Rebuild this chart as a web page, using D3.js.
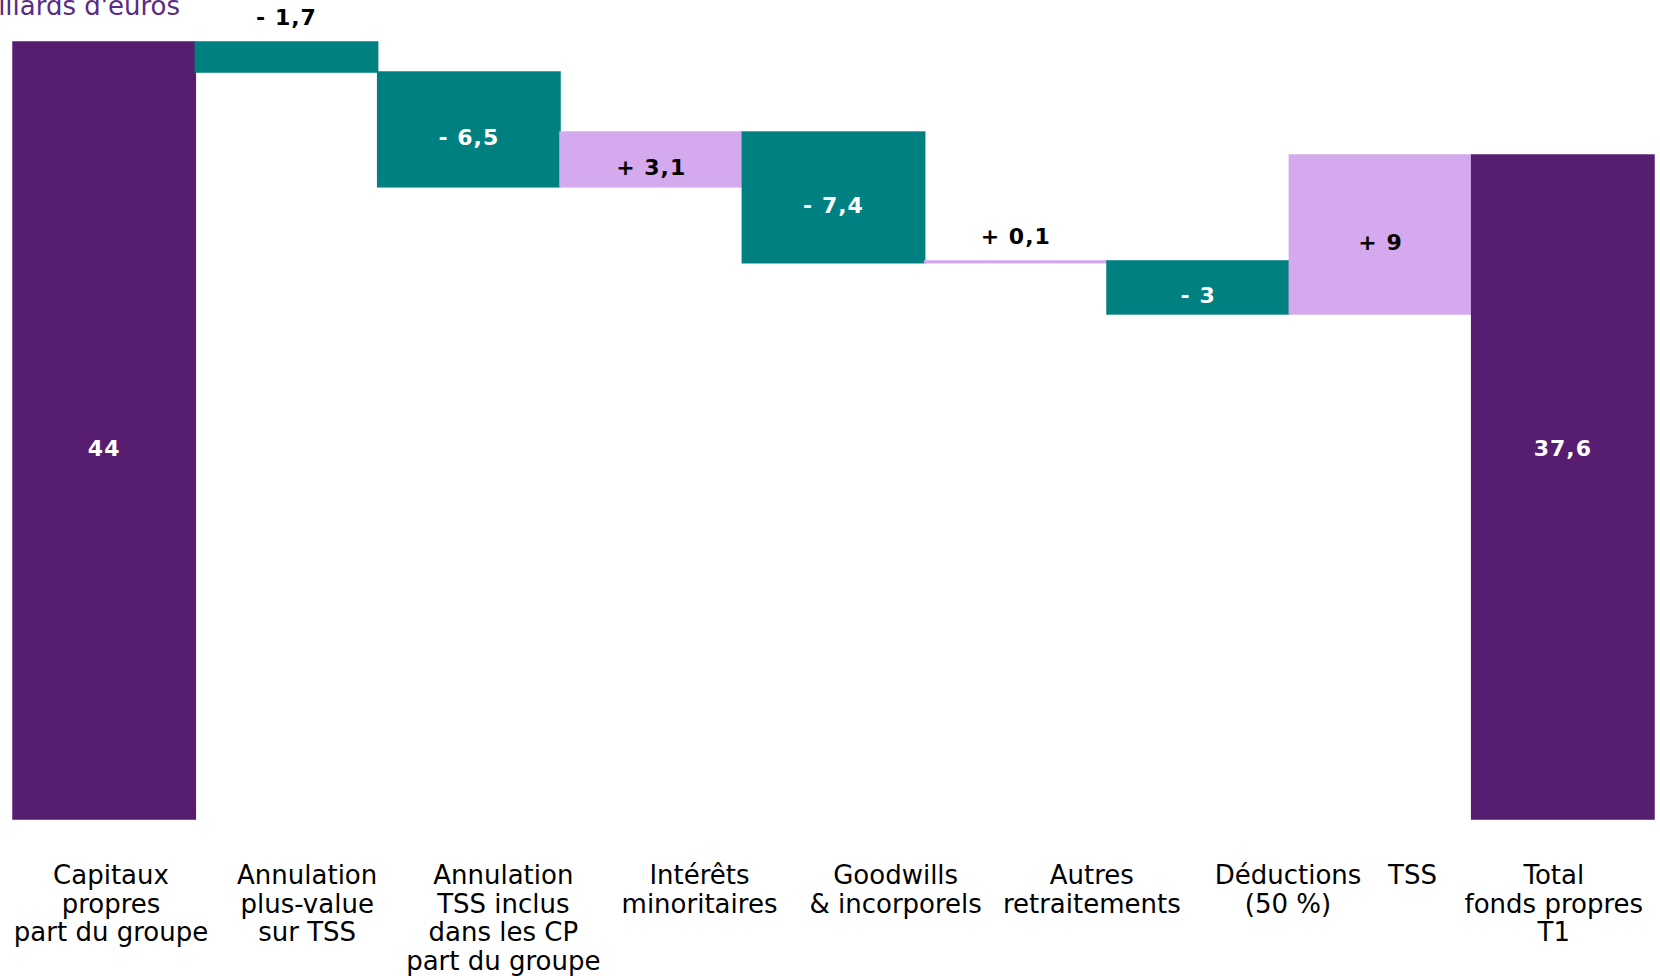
<!DOCTYPE html>
<html><head><meta charset="utf-8">
<script src="https://cdn.jsdelivr.net/npm/d3@7"></script>
<style>html,body{margin:0;padding:0;background:#fff;} svg{display:block;}</style>
</head><body>
<svg id="chart" width="1660" height="976"></svg>
<script>
// ---- data ----
const categories = ["cp","annPV","annTSS","minoritaires","goodwills","autres","deductions","tss","total"];
const categoryLabels = [
  ["Capitaux","propres","part du groupe"],
  ["Annulation","plus-value","sur TSS"],
  ["Annulation","TSS inclus","dans les CP","part du groupe"],
  ["Intérêts","minoritaires"],
  ["Goodwills","& incorporels"],
  ["Autres","retraitements"],
  ["Déductions","(50 %)"],
  ["TSS"],
  ["Total","fonds propres","T1"]
];
const kinds = ["total","delta","delta","delta","delta","delta","delta","delta","total"];
const values = [44, -1.7, -6.5, 3.1, -7.4, 0.1, -3, 9, 37.6];
const valueLabels = ["44","- 1,7","- 6,5","+ 3,1","- 7,4","+ 0,1","- 3","+ 9","37,6"];
const titleText = "En milliards d'euros";

// ---- layout / style ----
const colTotal = "#571D70", colNeg = "#008080", colPos = "#D4A9EE", colTitle = "#5B2A85";
const svg = d3.select("#chart");

// running totals
let run = 0;
const bars = categories.map((c, i) => {
  let y0, y1;
  if (kinds[i] === "total") { y0 = 0; y1 = values[i]; run = values[i]; }
  else { y0 = run; y1 = run + values[i]; run = y1; }
  return {cat: c, i, kind: kinds[i], v: values[i], lo: Math.min(y0, y1), hi: Math.max(y0, y1), label: valueLabels[i]};
});

const x = d3.scaleBand().domain(categories).range([13, 1654]).padding(0);
const y = d3.scaleLinear().domain([0, d3.max(bars, d => d.hi)]).range([819, 42]);

const fillOf = d => d.kind === "total" ? colTotal : (d.v < 0 ? colNeg : colPos);

svg.append("g").selectAll("rect").data(bars).join("rect")
  .attr("x", d => x(d.cat))
  .attr("width", x.bandwidth())
  .attr("y", d => y(d.hi))
  .attr("height", d => y(d.lo) - y(d.hi))
  .attr("fill", fillOf)
  .attr("stroke", fillOf)
  .attr("stroke-width", 1.5);

// value labels
const totalLabelY = (y(bars[0].lo) + y(bars[0].hi)) / 2 + 18;
svg.append("g").selectAll("text").data(bars).join("text")
  .attr("x", d => x(d.cat) + x.bandwidth() / 2)
  .attr("y", d => {
    if (d.kind === "total") return totalLabelY;
    const h = y(d.lo) - y(d.hi);
    if (h < 40) return y(d.hi) - 25;
    return (y(d.lo) + y(d.hi)) / 2 + 8;
  })
  .attr("dy", "0.36em")
  .attr("text-anchor", "middle")
  .attr("font-family", "'DejaVu Sans', Verdana, sans-serif")
  .attr("font-weight", "bold")
  .attr("font-size", 22)
  .attr("letter-spacing", "1px")
  .attr("fill", d => {
    const h = y(d.lo) - y(d.hi);
    if (d.kind !== "total" && h < 40) return "#000";
    return (d.kind === "total" || d.v < 0) ? "#fff" : "#000";
  })
  .text(d => d.label);

// category labels
const xLabel = d3.scalePoint().domain(categories.slice(0, 7)).range([111, 1288]);
const labelNudge = {tss: 32, total: -9};
const labX = (c) => categories.indexOf(c) < 7 ? xLabel(c) : x(c) + x.bandwidth() / 2 + (labelNudge[c] || 0);
const lg = svg.append("g")
  .attr("font-family", "'DejaVu Sans', Verdana, sans-serif")
  .attr("font-size", 26)
  .attr("fill", "#000");
categories.forEach((c, i) => {
  const t = lg.append("text").attr("text-anchor", "middle").attr("y", 884);
  categoryLabels[i].forEach((line, k) => {
    t.append("tspan").attr("x", labX(c)).attr("y", 884 + k * 28.6).text(line);
  });
});

// title (partly cut at the left edge, as in the reference)
svg.append("text")
  .attr("x", 180).attr("y", 15)
  .attr("text-anchor", "end")
  .attr("font-family", "'DejaVu Sans', Verdana, sans-serif")
  .attr("font-size", 26)
  .attr("fill", colTitle)
  .text(titleText);
</script>
</body></html>
